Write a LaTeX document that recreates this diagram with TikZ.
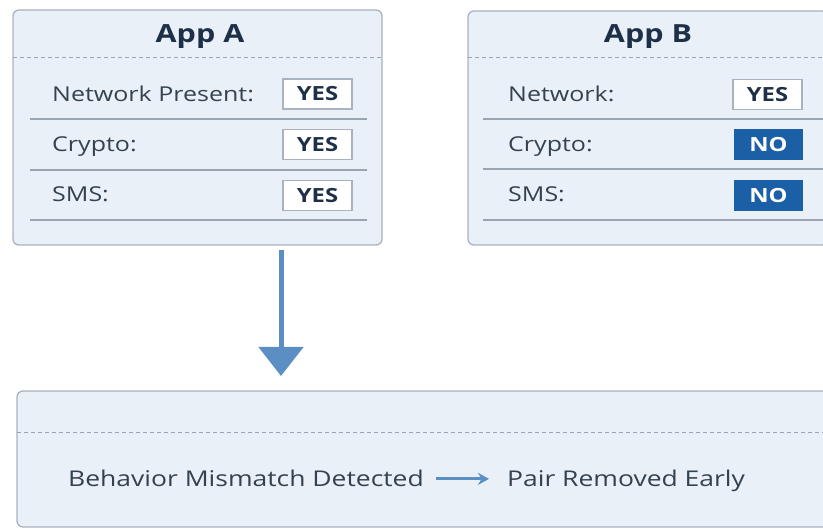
\documentclass[tikz,border=0pt]{standalone}
\usepackage{fontspec}
\setmainfont{Open Sans}[FakeStretch=1.22]
\usetikzlibrary{arrows.meta,calc}
\definecolor{boxfill}{HTML}{EAF0F8}
\definecolor{boxline}{HTML}{A9B3BF}
\definecolor{rowline}{HTML}{9AA5B0}
\definecolor{titlecol}{HTML}{1E3048}
\definecolor{textcol}{HTML}{34424F}
\definecolor{nofill}{HTML}{1B5FA6}
\definecolor{arrowcol}{HTML}{5B8EC2}
\tikzset{
  appbox/.style={draw=boxline, line width=1.3pt, fill=boxfill, rounded corners=6pt, inner sep=0pt},
  titletext/.style={text=titlecol, font=\fontsize{25}{29}\selectfont\bfseries, inner sep=0pt},
  labeltext/.style={text=textcol, font=\fontsize{20.5}{24}\selectfont, anchor=base west, inner sep=0pt},
  bottomtext/.style={text=textcol, font=\fontsize{21.7}{26}\selectfont, anchor=base west, inner sep=0pt},
  yesbox/.style={draw=boxline, line width=1.2pt, fill=white, minimum width=69pt, minimum height=30pt, inner sep=0pt, text=titlecol, font=\fontsize{19.5}{22}\selectfont\bfseries},
  nobox/.style={fill=nofill, minimum width=69pt, minimum height=31pt, inner sep=0pt, text=white, font=\fontsize{19.5}{22}\selectfont\bfseries},
  rowsep/.style={draw=rowline, line width=1.3pt},
  dashsep/.style={draw=rowline, line width=1pt, dash pattern=on 4pt off 3pt},
  bigarrow/.style={draw=arrowcol, line width=5pt, -{Triangle[width=44pt,length=29pt]}},
  smallarrow/.style={draw=arrowcol, line width=3pt, -{Stealth[width=12pt,length=11pt]}, shorten <=12pt, shorten >=18pt}
}
\begin{document}
\begin{tikzpicture}[x=1pt,y=-1pt]
\useasboundingbox (0,0) rectangle (823,529);
% App A
\node[appbox, minimum width=369pt, minimum height=235pt] (boxA) at (197.5,127.5) {};
\node[titletext] (titleA) at (200,37) {App A};
\draw[dashsep] (13,58) -- (382,58);
\node[labeltext] (netA) at (52,102) {Network Present:};
\node[labeltext] (cryA) at (52,152) {Crypto:};
\node[labeltext] (smsA) at (52,202) {SMS:};
\node[yesbox] (ynetA) at (317.5,94) {YES};
\node[yesbox] (ycryA) at (317.5,144.5) {YES};
\node[yesbox] (ysmsA) at (317.5,195.5) {YES};
\draw[rowsep] (30,119) -- (367,119);
\draw[rowsep] (30,170) -- (367,170);
\draw[rowsep] (30,220) -- (367,220);
% App B
\node[appbox, minimum width=360pt, minimum height=234pt] (boxB) at (648,128) {};
\node[titletext] (titleB) at (648,37) {App B};
\draw[dashsep] (468,58) -- (823,58);
\node[labeltext] (netB) at (508,102) {Network:};
\node[labeltext] (cryB) at (508,152) {Crypto:};
\node[labeltext] (smsB) at (508,202) {SMS:};
\node[yesbox] (ynetB) at (767.5,94.5) {YES};
\node[nobox] (ncryB) at (768.5,144.5) {NO};
\node[nobox] (nsmsB) at (768.5,195.5) {NO};
\draw[rowsep] (483,119) -- (823,119);
\draw[rowsep] (483,169) -- (823,169);
\draw[rowsep] (483,220) -- (823,220);
% Bottom box
\node[appbox, minimum width=820pt, minimum height=136pt] (result) at (427,459) {};
\draw[dashsep] (17,433) -- (823,433);
\node[bottomtext] (mismatch) at (68,487) {Behavior Mismatch Detected};
\node[bottomtext] (removed) at (507,487) {Pair Removed Early};
\draw[smallarrow] (mismatch.east) -- (mismatch.east -| removed.west);
% main arrow
\coordinate (arrStart) at (281,250);
\coordinate (arrEnd) at (281,376);
\draw[bigarrow] (arrStart) -- (arrEnd);
\end{tikzpicture}
\end{document}
